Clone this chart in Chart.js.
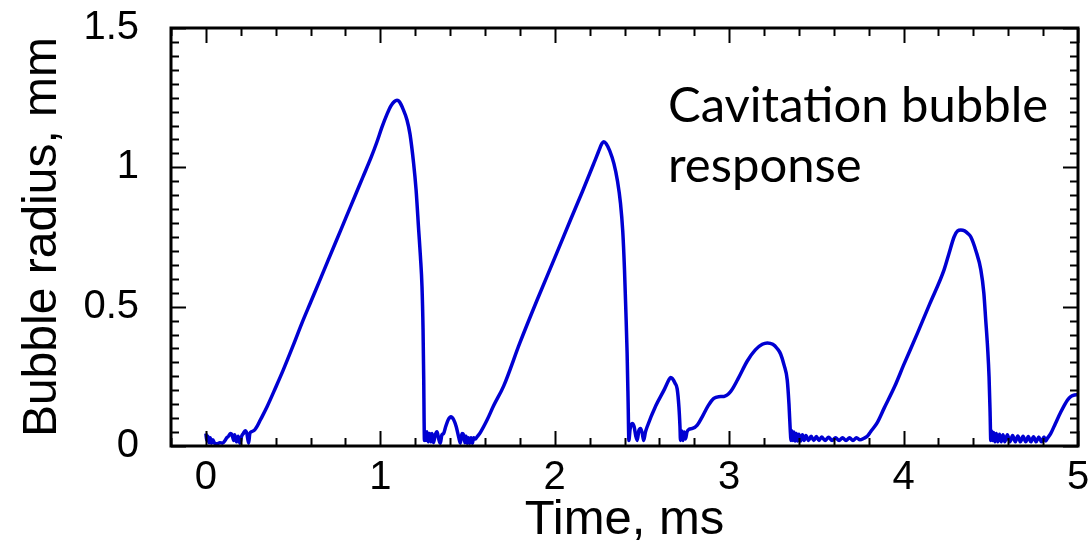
<!DOCTYPE html>
<html>
<head>
<meta charset="utf-8">
<title>Cavitation bubble response</title>
<script src="https://cdn.jsdelivr.net/npm/chart.js@4/dist/chart.umd.min.js"></script>
<style>
  html, body { margin: 0; padding: 0; background: #fff; }
  #chart { display: block; }
</style>
</head>
<body>
<canvas id="chart" width="1088" height="546"></canvas>
<script>
// Bubble radius trace
const timeMs = [
  0.000, 0.005, 0.012, 0.018, 0.025, 0.032, 0.040, 0.050, 0.065, 0.080, 0.095, 0.110, 0.120, 0.130, 0.140, 0.150,
  0.160, 0.165, 0.175, 0.185, 0.195, 0.205, 0.215, 0.225, 0.235, 0.245, 0.252, 0.264, 0.280, 0.295, 0.312,
  0.350, 0.400, 0.445, 0.500, 0.550, 0.600, 0.650, 0.700, 0.750, 0.800, 0.850, 0.900, 0.950, 0.980, 1.010,
  1.038, 1.060, 1.080, 1.096, 1.110, 1.130, 1.153, 1.170, 1.191, 1.205, 1.220, 1.230, 1.239, 1.245, 1.249,
  1.251, 1.253,
  1.256, 1.262, 1.268, 1.275, 1.283, 1.290, 1.297, 1.305, 1.315, 1.325, 1.335, 1.344, 1.353, 1.363, 1.375,
  1.390, 1.405, 1.420, 1.435, 1.450, 1.459, 1.468, 1.478, 1.485, 1.492, 1.498, 1.505, 1.512, 1.520, 1.528,
  1.535, 1.545, 1.555,
  1.575, 1.612, 1.650, 1.707, 1.800, 1.899, 2.000, 2.090, 2.160, 2.224, 2.250, 2.270, 2.281, 2.295, 2.315,
  2.339, 2.360, 2.377, 2.390, 2.400, 2.408, 2.415, 2.421, 2.425,
  2.432, 2.444, 2.455, 2.465, 2.473, 2.482, 2.492, 2.502, 2.510, 2.520, 2.530,
  2.580, 2.630, 2.655, 2.664, 2.675, 2.690, 2.702, 2.712, 2.718, 2.721,
  2.728, 2.735, 2.742, 2.750, 2.758, 2.770, 2.790, 2.817,
  2.850, 2.880, 2.912, 2.940, 2.970, 3.008, 3.050, 3.104, 3.150, 3.190, 3.219, 3.250, 3.275, 3.295, 3.315,
  3.333, 3.343, 3.350, 3.355,
  3.360, 3.365, 3.372, 3.378, 3.385, 3.392, 3.400, 3.410, 3.420, 3.430, 3.440, 3.455, 3.470, 3.485, 3.500,
  3.515, 3.530, 3.550, 3.570, 3.590, 3.610, 3.630, 3.650, 3.670, 3.690, 3.710, 3.730, 3.750, 3.773,
  3.792, 3.811, 3.850, 3.888, 3.950, 4.000, 4.079, 4.150, 4.232, 4.260, 4.290, 4.310, 4.328, 4.350, 4.370,
  4.385, 4.415, 4.443, 4.460, 4.471, 4.482, 4.490, 4.496, 4.500,
  4.505, 4.510, 4.517, 4.524, 4.532, 4.540, 4.550, 4.560, 4.570, 4.580, 4.595, 4.610, 4.625, 4.640, 4.655,
  4.670, 4.685, 4.700, 4.715, 4.730, 4.745, 4.760, 4.775, 4.790, 4.805, 4.815, 4.825,
  4.844, 4.870, 4.900, 4.940, 4.960, 4.980, 5.000
];

const radiusMm = [
  0.045, 0.020, 0.035, 0.012, 0.030, 0.010, 0.022, 0.010, 0.008, 0.012, 0.010, 0.020, 0.030, 0.035, 0.045, 0.040,
  0.020, 0.040, 0.015, 0.035, 0.010, 0.035, 0.045, 0.055, 0.045, 0.010, 0.045, 0.052, 0.058, 0.072, 0.093,
  0.140, 0.210, 0.275, 0.360, 0.440, 0.515, 0.590, 0.665, 0.740, 0.815, 0.890, 0.965, 1.040, 1.090, 1.145,
  1.190, 1.220, 1.236, 1.241, 1.235, 1.210, 1.170, 1.120, 1.014, 0.920, 0.775, 0.680, 0.572, 0.420, 0.237,
  0.100, 0.020,
  0.045, 0.020, 0.051, 0.015, 0.045, 0.015, 0.045, 0.012, 0.040, 0.051, 0.025, 0.010, 0.040, 0.045, 0.070,
  0.095, 0.105, 0.095, 0.070, 0.030, 0.010, 0.045, 0.040, 0.012, 0.035, 0.010, 0.030, 0.010, 0.030, 0.010,
  0.030, 0.025, 0.033,
  0.050, 0.093, 0.145, 0.215, 0.370, 0.524, 0.675, 0.811, 0.915, 1.014, 1.055, 1.085, 1.092, 1.085, 1.060,
  1.014, 0.950, 0.871, 0.770, 0.632, 0.480, 0.333, 0.150, 0.020,
  0.060, 0.081, 0.070, 0.035, 0.020, 0.055, 0.063, 0.045, 0.020, 0.050, 0.069,
  0.145, 0.205, 0.238, 0.246, 0.242, 0.225, 0.205, 0.140, 0.070, 0.020,
  0.055, 0.020, 0.050, 0.025, 0.050, 0.060, 0.063, 0.075,
  0.110, 0.145, 0.171, 0.177, 0.178, 0.195, 0.240, 0.305, 0.345, 0.365, 0.370, 0.365, 0.350, 0.330, 0.290,
  0.237, 0.150, 0.060, 0.020,
  0.055, 0.020, 0.050, 0.018, 0.045, 0.018, 0.042, 0.018, 0.040, 0.020, 0.038, 0.020, 0.035, 0.020, 0.034,
  0.020, 0.032, 0.020, 0.031, 0.020, 0.030, 0.020, 0.030, 0.020, 0.030, 0.020, 0.030, 0.022, 0.028,
  0.035, 0.051, 0.085, 0.135, 0.215, 0.290, 0.404, 0.510, 0.632, 0.690, 0.751, 0.772, 0.775, 0.772, 0.762,
  0.751, 0.700, 0.632, 0.550, 0.452, 0.350, 0.249, 0.120, 0.020,
  0.055, 0.020, 0.048, 0.015, 0.045, 0.015, 0.042, 0.015, 0.040, 0.015, 0.040, 0.015, 0.038, 0.015, 0.036,
  0.015, 0.035, 0.015, 0.034, 0.015, 0.033, 0.015, 0.032, 0.015, 0.032, 0.018, 0.028,
  0.045, 0.080, 0.120, 0.165, 0.178, 0.183, 0.184
];

const xTicks = [0, 1, 2, 3, 4, 5];
const yTicks = [0, 0.5, 1, 1.5];
const xMinorStep = 0.2;
const yMinorStep = 0.05;
const annotationLines = ['Cavitation bubble', 'response'];

const AXIS_FONT = '"Liberation Sans", Arial, Helvetica, sans-serif';
const LINE_COLOR = '#0000d2';

/**
 * Frame with inward ticks on all four sides, plus the text label
 */
const framePlugin = {
  id: 'frame',
  afterDatasetsDraw(chart) {
    const { ctx, chartArea: a, scales } = chart;
    const xs = scales.x;
    const ys = scales.y;
    ctx.save();
    ctx.strokeStyle = '#000';

    ctx.lineWidth = 2;
    const tick = (x1, y1, x2, y2) => {
      ctx.beginPath();
      ctx.moveTo(x1, y1);
      ctx.lineTo(x2, y2);
      ctx.stroke();
    };

    // x ticks, minor then major
    for (let v = xs.min; v <= xs.max + 1e-9; v += xMinorStep) {
      const px = Math.round(xs.getPixelForValue(v)) + 0.5;
      const major = xTicks.some((t) => Math.abs(t - v) < 1e-6);
      const len = major ? 15 : 8;
      tick(px, a.bottom, px, a.bottom - len);
      tick(px, a.top, px, a.top + len);
    }
    // y ticks
    for (let v = ys.min; v <= ys.max + 1e-9; v += yMinorStep) {
      const py = Math.round(ys.getPixelForValue(v)) + 0.5;
      const major = yTicks.some((t) => Math.abs(t - v) < 1e-6);
      const len = major ? 15 : 8;
      tick(a.left, py, a.left + len, py);
      tick(a.right, py, a.right - len, py);
    }

    ctx.lineWidth = 3;
    ctx.strokeRect(a.left, a.top, a.right - a.left, a.bottom - a.top);

    // annotation text
    ctx.fillStyle = '#000';
    ctx.font = '49px Lato, "Open Sans", sans-serif';
    ctx.textAlign = 'left';
    ctx.textBaseline = 'alphabetic';
    annotationLines.forEach((line, i) => {
      ctx.fillText(line, 668, 122 + i * 60);
    });
    ctx.restore();
  },
};

const points = timeMs.map((t, i) => ({ x: t, y: radiusMm[i] }));

new Chart(document.getElementById('chart'), {
  type: 'scatter',
  data: {
    datasets: [
      {
        data: points,
        showLine: true,
        borderColor: LINE_COLOR,
        borderWidth: 3.5,
        pointRadius: 0,
        cubicInterpolationMode: 'monotone',
        fill: false,
      },
    ],
  },
  options: {
    responsive: false,
    devicePixelRatio: 1,
    animation: false,
    layout: { padding: { top: 28, right: 10, left: 0, bottom: 0 } },
    plugins: {
      legend: { display: false },
      tooltip: { enabled: false },
    },
    scales: {
      x: {
        type: 'linear',
        min: -0.2,
        max: 5,
        afterFit: (s) => {
          s.height = 100;
          s.paddingLeft = 0;
          s.paddingRight = 0;
        },
        afterBuildTicks: (s) => { s.ticks = xTicks.map((v) => ({ value: v })); },
        grid: { display: false },
        border: { display: false },
        ticks: {
          color: '#000',
          padding: 0,
          font: { family: AXIS_FONT, size: 40 },
          callback: (v) => String(v),
        },
        title: {
          display: true,
          text: 'Time, ms',
          color: '#000',
          font: { family: AXIS_FONT, size: 49 },
          padding: { top: 0, bottom: -4 },
        },
      },
      y: {
        type: 'linear',
        min: 0,
        max: 1.5,
        afterFit: (s) => {
          s.width = 171;
          s.paddingTop = 0;
          s.paddingBottom = 0;
        },
        afterBuildTicks: (s) => { s.ticks = yTicks.map((v) => ({ value: v })); },
        grid: { display: false },
        border: { display: false },
        ticks: {
          color: '#000',
          padding: 24,
          font: { family: AXIS_FONT, size: 40 },
          callback: (v) => String(v),
        },
        title: {
          display: true,
          text: 'Bubble radius, mm',
          color: '#000',
          font: { family: AXIS_FONT, size: 48 },
          padding: { top: 14, bottom: 0 },
        },
      },
    },
  },
  plugins: [framePlugin],
});
</script>
</body>
</html>
